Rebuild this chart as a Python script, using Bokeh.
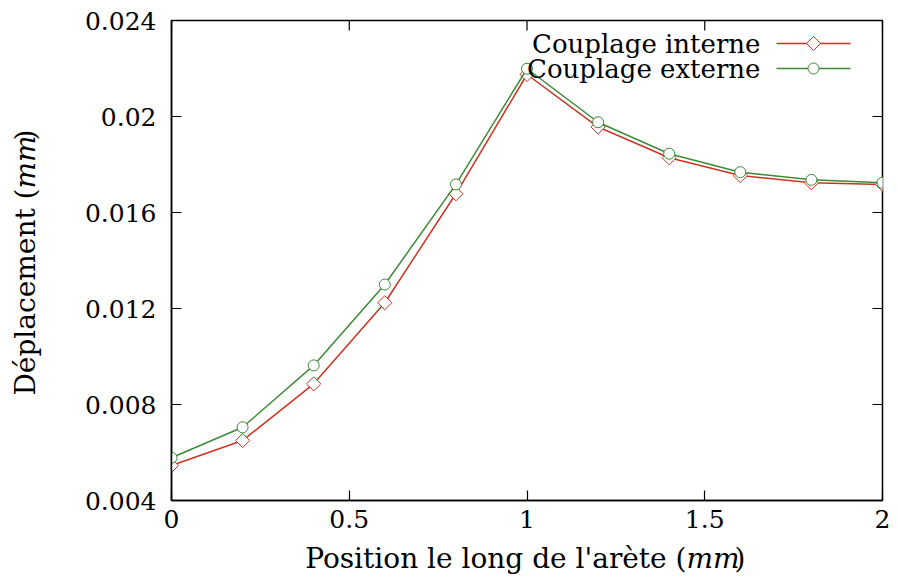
import math
from bokeh.plotting import figure
from bokeh.models import Range1d, FixedTicker, Label, ColumnDataSource
from bokeh.embed import file_html
from bokeh.resources import INLINE

# ---- data ----
positions = [0.0, 0.2, 0.4, 0.6, 0.8, 1.0, 1.2, 1.4, 1.6, 1.8, 2.0]
couplage_interne = [0.00546, 0.00650, 0.00886, 0.01224, 0.01678, 0.02175,
                    0.01956, 0.01828, 0.01754, 0.01724, 0.01717]
couplage_externe = [0.00578, 0.00705, 0.00963, 0.01300, 0.01717, 0.02199,
                    0.01976, 0.01845, 0.01768, 0.01736, 0.01724]
series_names = ["Couplage interne", "Couplage externe"]
x_ticks = [0, 0.5, 1, 1.5, 2]
x_tick_labels = ["0", "0.5", "1", "1.5", "2"]
y_ticks = [0.004, 0.008, 0.012, 0.016, 0.02, 0.024]
y_tick_labels = ["0.004", "0.008", "0.012", "0.016", "0.02", "0.024"]
x_label_main = "Position le long de l'arète ("
y_label_main = "Déplacement ("
unit_label = "mm"

RED = "#cc3322"
GREEN = "#3b8a35"
FONT = "DejaVu Serif"

XMIN, XMAX = 0.0, 2.0
YMIN, YMAX = 0.004, 0.024
FW, FH = 711, 480
BL, BT = 171, 20

p = figure(width=890, height=570, output_backend="svg", toolbar_location=None,
           x_range=Range1d(XMIN, XMAX), y_range=Range1d(YMIN, YMAX),
           frame_width=FW, frame_height=FH,
           min_border_left=BL, min_border_top=BT, min_border_right=8,
           min_border_bottom=70)
p.grid.visible = False
p.outline_line_color = "black"
p.outline_line_width = 1.5
p.background_fill_color = "white"
p.border_fill_color = "white"

def style_axis(ax, ticks, labels):
    ax.ticker = FixedTicker(ticks=ticks)
    ax.major_tick_in = 10
    ax.major_tick_out = 0
    ax.minor_tick_line_color = None
    ax.axis_line_color = "black"
    ax.axis_line_width = 1.5
    ax.major_tick_line_color = "black"
    ax.major_tick_line_width = 1.2
    ax.major_label_overrides = {t: l for t, l in zip(ticks, labels)}
    ax.major_label_text_font = FONT
    ax.major_label_text_font_size = "25px"
    ax.major_label_text_color = "black"

style_axis(p.xaxis[0], x_ticks, x_tick_labels)
style_axis(p.yaxis[0], y_ticks, y_tick_labels)
p.xaxis[0].major_label_standoff = 9
p.yaxis[0].major_label_standoff = 15

sx = FW / (XMAX - XMIN)
sy = FH / (YMAX - YMIN)
TICK = 10
# mirror ticks on top and right edges
p.segment(x0=x_ticks, y0=[YMAX] * len(x_ticks), x1=x_ticks,
          y1=[YMAX - TICK / sy] * len(x_ticks), line_color="black", line_width=1.2)
p.segment(x0=[XMAX] * len(y_ticks), y0=y_ticks, x1=[XMAX - TICK / sx] * len(y_ticks),
          y1=y_ticks, line_color="black", line_width=1.2)

src = ColumnDataSource(dict(x=positions, yi=couplage_interne, ye=couplage_externe))
p.line("x", "yi", source=src, line_color=RED, line_width=1.5)
p.scatter("x", "yi", source=src, marker="square", angle=math.pi / 4, size=10,
          fill_color="white", line_color=RED, line_width=1)
p.line("x", "ye", source=src, line_color=GREEN, line_width=1.5)
p.scatter("x", "ye", source=src, marker="circle", size=11, fill_color="white",
          line_color=GREEN, line_width=1)

def dx(px):
    return XMIN + (px - BL) / sx
def dy(py):
    return YMAX - (py - BT) / sy

# ---- legend (text left, sample right) ----
leg_rows = [(series_names[0], RED, "square", 10, 43), (series_names[1], GREEN, "circle", 11, 68)]
for name, col, mk, sz, py in leg_rows:
    p.add_layout(Label(x=dx(760), y=dy(py), text=name, text_align="right",
                       text_baseline="middle", text_font=FONT,
                       text_font_size="26px", text_color="black"))
    p.line([dx(776), dx(850)], [dy(py), dy(py)], line_color=col, line_width=1.5)
    p.scatter([dx(813)], [dy(py)], marker=mk, size=sz,
              angle=math.pi / 4 if mk == "square" else 0,
              fill_color="white", line_color=col, line_width=1)

# ---- axis labels (canvas units, placed in side panels so they are not clipped) ----
FS = "28px"
MM_W = 48
XL_ANCHOR, XL_Y = 686, 558
for txt, align, style, off in [(x_label_main, "right", "normal", 0),
                               (unit_label, "left", "italic", 0),
                               (")", "left", "normal", MM_W)]:
    p.add_layout(Label(x=XL_ANCHOR + off, y=XL_Y, x_units="canvas", y_units="canvas",
                       text=txt, text_align=align, text_baseline="middle",
                       text_color="black", text_font=FONT, text_font_style=style,
                       text_font_size=FS),
                 "below")

YL_X, YL_ANCHOR = 25, 188
for txt, align, style, off, panel in [(y_label_main, "right", "normal", 0, "left"),
                                      (unit_label, "left", "italic", 0, "left"),
                                      (")", "left", "normal", MM_W, "below")]:
    p.add_layout(Label(x=YL_X, y=YL_ANCHOR - off, x_units="canvas", y_units="canvas",
                       text=txt, angle=math.pi / 2, text_align=align,
                       text_baseline="middle", text_color="black", text_font=FONT,
                       text_font_style=style, text_font_size=FS),
                 panel)

open("out.html", "w").write(file_html(p, INLINE))
